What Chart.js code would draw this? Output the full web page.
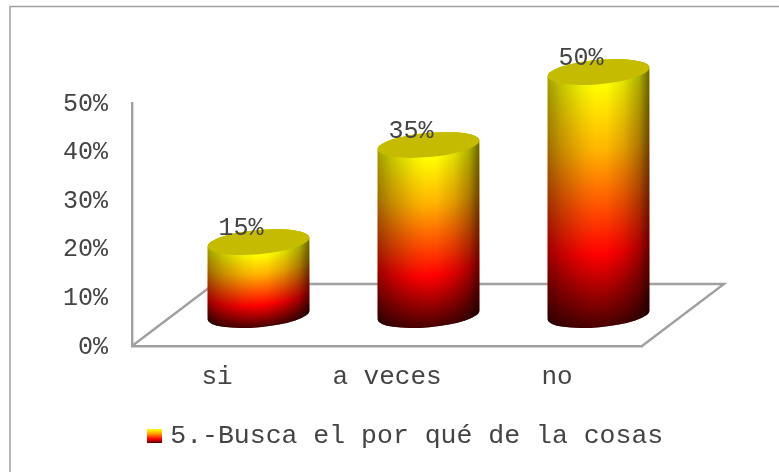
<!DOCTYPE html>
<html><head><meta charset="utf-8">
<style>html,body{margin:0;padding:0;background:#fff}#w{width:779px;height:472px;position:relative}</style>
<script src="https://cdn.jsdelivr.net/npm/chart.js@4"></script>
</head><body><div id="w"><canvas id="c" width="779" height="472"></canvas></div>
<script>
const categories = ['si', 'a veces', 'no'];
const seriesName = '5.-Busca el por qué de la cosas';
const seriesValues = [15, 35, 50];
const yTicks = [0, 10, 20, 30, 40, 50];

const FONT = "'Liberation Mono', monospace";
const TEXT = '#444444', LINE = '#a0a0a0';
const depth = {x: 82, y: -62};
const tilt = -0.09, capRatio = 0.24;
const shift = {x: 41.5, y: -31};

function cylinderPath(ctx, bar) {
  const a = bar.width / 2, b = a * capRatio;
  const dx = Math.cos(tilt) * a, dy = Math.sin(tilt) * a;
  ctx.moveTo(bar.x - dx, bar.base - dy);
  ctx.ellipse(bar.x, bar.base, a, b, tilt, Math.PI, 0, true);
  ctx.lineTo(bar.x + dx, bar.y + dy);
  ctx.ellipse(bar.x, bar.y, a, b, tilt, 0, Math.PI, true);
  ctx.closePath();
}

function drawCylinder(ctx, bar) {
  const a = bar.width / 2, b = a * capRatio;
  ctx.save();
  ctx.beginPath(); cylinderPath(ctx, bar); ctx.clip();
  // vertical colour ramp, bent along the front of the cylinder column by column
  for (let px = -Math.ceil(a) - 1; px <= Math.ceil(a) + 1; px++) {
    const u = Math.max(-1, Math.min(1, px / a));
    const off = b * Math.sqrt(1 - u * u) + px * Math.sin(tilt);
    const g = ctx.createLinearGradient(0, bar.y + off, 0, bar.base + off);
    g.addColorStop(0, '#ffff00');
    g.addColorStop(0.27, '#ffb400');
    g.addColorStop(0.7, '#ff0000');
    g.addColorStop(1, '#480000');
    ctx.fillStyle = g;
    ctx.fillRect(bar.x + px, bar.y - b - 6, 1.5, bar.base - bar.y + 2 * b + 12);
  }
  const h = ctx.createLinearGradient(bar.x - a, 0, bar.x + a, 0);
  h.addColorStop(0, 'rgba(0,0,0,0.38)');
  h.addColorStop(0.15, 'rgba(0,0,0,0.22)');
  h.addColorStop(0.35, 'rgba(0,0,0,0.06)');
  h.addColorStop(0.47, 'rgba(0,0,0,0)');
  h.addColorStop(0.58, 'rgba(0,0,0,0)');
  h.addColorStop(0.75, 'rgba(0,0,0,0.12)');
  h.addColorStop(0.9, 'rgba(0,0,0,0.32)');
  h.addColorStop(1, 'rgba(0,0,0,0.6)');
  ctx.fillStyle = h;
  ctx.fillRect(bar.x - a - 1, bar.y - b - 6, bar.width + 2, bar.base - bar.y + 2 * b + 12);
  ctx.restore();
  ctx.beginPath();
  ctx.ellipse(bar.x, bar.y, a, b, tilt, 0, Math.PI * 2);
  ctx.fillStyle = '#c5bb00';
  ctx.fill();
}

const cylinders = {
  id: 'cylinders',
  beforeDraw(chart) {
    const {ctx} = chart;
    ctx.save();
    ctx.strokeStyle = LINE; ctx.lineWidth = 1.5;
    ctx.beginPath(); ctx.moveTo(10, 472); ctx.lineTo(10, 6.5); ctx.lineTo(779, 6.5); ctx.stroke();
    ctx.restore();
  },
  beforeDatasetsDraw(chart) {
    const {ctx, chartArea: ca} = chart;
    ctx.save();
    ctx.strokeStyle = LINE; ctx.lineWidth = 2.4;
    ctx.beginPath();
    ctx.moveTo(ca.left, ca.bottom);
    ctx.lineTo(ca.left + depth.x, ca.bottom + depth.y);
    ctx.lineTo(ca.right + depth.x, ca.bottom + depth.y);
    ctx.lineTo(ca.right, ca.bottom);
    ctx.stroke();
    ctx.restore();
  },
  beforeDatasetDraw(chart, args) {
    const {ctx} = chart;
    ctx.save();
    ctx.translate(shift.x, shift.y);
    ctx.beginPath();
    args.meta.data.forEach(bar => cylinderPath(ctx, bar));
    ctx.clip();
  },
  afterDatasetDraw(chart, args) {
    const {ctx} = chart;
    ctx.restore();
    ctx.save();
    ctx.translate(shift.x, shift.y);
    args.meta.data.forEach(bar => drawCylinder(ctx, bar));
    ctx.font = '25px ' + FONT;
    ctx.fillStyle = TEXT;
    ctx.textAlign = 'center';
    ctx.textBaseline = 'middle';
    args.meta.data.forEach((bar, i) => {
      ctx.fillText(seriesValues[i] + '%', bar.x - 17.5, bar.y - 14);
    });
    ctx.restore();
  },
  afterLayout(chart) {
    const l = chart.legend;
    l.left = 141; l.right = 779; l.top = 413; l.bottom = 472;
    l.width = l.right - l.left; l.height = l.bottom - l.top;
  }
};

const swatch = document.createElement('canvas');
swatch.width = 15; swatch.height = 14;
(function () {
  const s = swatch.getContext('2d');
  const g = s.createLinearGradient(0, 0, 0, 14);
  g.addColorStop(0, '#ffff00');
  g.addColorStop(0.27, '#ffb400');
  g.addColorStop(0.7, '#ff0000');
  g.addColorStop(1, '#480000');
  s.fillStyle = g; s.fillRect(0, 0, 15, 14);
})();

new Chart(document.getElementById('c'), {
  type: 'bar',
  data: {
    labels: categories,
    datasets: [{
      label: seriesName,
      data: seriesValues,
      backgroundColor: '#ff0000',
      borderWidth: 0,
      barPercentage: 0.6,
      categoryPercentage: 1,
      clip: false
    }]
  },
  plugins: [cylinders],
  options: {
    responsive: false,
    animation: false,
    devicePixelRatio: 1,
    layout: {padding: {left: 0, right: 137, top: 103, bottom: 0}},
    scales: {
      x: {
        grid: {display: false, drawTicks: false},
        border: {color: LINE, width: 2.4},
        ticks: {font: {family: FONT, size: 26}, color: TEXT, padding: 16, maxRotation: 0},
        afterFit(s) { s.height = 126; }
      },
      y: {
        min: yTicks[0], max: yTicks[yTicks.length - 1],
        grid: {display: false, drawTicks: false},
        border: {color: LINE, width: 2.4},
        ticks: {
          font: {family: FONT, size: 25}, color: TEXT, padding: 24, stepSize: 10,
          labelOffset: 1,
          callback: v => v + '%'
        },
        afterFit(s) { s.width = 132; }
      }
    },
    plugins: {
      tooltip: {enabled: false},
      legend: {
        position: 'chartArea',
        align: 'start',
        labels: {
          font: {family: FONT, size: 26.5},
          color: TEXT,
          usePointStyle: true,
          boxWidth: 6,
          boxHeight: 14,
          padding: 10,
          generateLabels: () => [{
            text: seriesName, fillStyle: '#ff0000', strokeStyle: 'transparent',
            lineWidth: 0, pointStyle: swatch, datasetIndex: 0, fontColor: TEXT
          }]
        }
      }
    }
  }
});
</script></body></html>
